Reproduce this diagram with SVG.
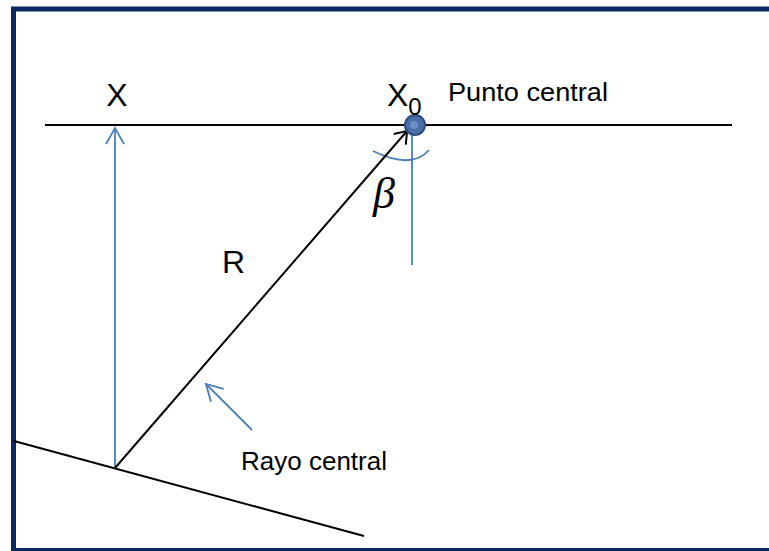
<svg xmlns="http://www.w3.org/2000/svg" width="769" height="551" viewBox="0 0 769 551">
  <defs>
    <style>
      .frame { fill: #ffffff; stroke: #0b2a64; stroke-width: 5; }
      .blk { stroke: #000000; stroke-width: 2; fill: none; stroke-linecap: butt; }
      .blu { stroke: #4a7ebb; stroke-width: 1.8; fill: none; }
      .lbl { font-family: "Liberation Sans", Arial, sans-serif; fill: #000000; }
    </style>
    <marker id="arrBlue" markerUnits="userSpaceOnUse" markerWidth="24" markerHeight="24" refX="0" refY="0" viewBox="-20 -12 24 24" orient="auto">
      <path d="M-16,-9 L0,0 L-16,9" fill="none" stroke="#4a7ebb" stroke-width="1.8"/>
    </marker>
    <marker id="arrBlack" markerUnits="userSpaceOnUse" markerWidth="24" markerHeight="24" refX="0" refY="0" viewBox="-20 -12 24 24" orient="auto">
      <path d="M-11,-8 L0,0 L-11,8" fill="none" stroke="#000000" stroke-width="2"/>
    </marker>
  </defs>

  <rect x="0" y="0" width="769" height="551" fill="#ffffff"/>
  <rect class="frame" x="13.5" y="9" width="800" height="541.5"/>

  <g id="connectors">
    <line class="blk" x1="45" y1="125" x2="732" y2="125"/>
    <line class="blk" x1="14" y1="441" x2="364" y2="536"/>
    <line class="blu" x1="115" y1="467" x2="115" y2="128" marker-end="url(#arrBlue)"/>
    <line class="blu" x1="412" y1="125" x2="412" y2="265"/>
    <path class="blu" d="M373,151 Q412,170 429,150"/>
    <line class="blk" x1="115" y1="468" x2="407" y2="131" marker-end="url(#arrBlack)"/>
    <line class="blu" x1="252" y1="430" x2="206" y2="384" marker-end="url(#arrBlue)"/>
  </g>

  <g id="punto-x0">
    <circle cx="415" cy="125" r="10" fill="#4a6fa8" stroke="#2c4c7e" stroke-width="2"/>
    <circle cx="414" cy="125" r="4" fill="#6b8fc6"/>
  </g>

  <g id="label-x">
    <text class="lbl" x="117" y="106" font-size="32" text-anchor="middle">X</text>
  </g>
  <g id="label-x0">
    <text class="lbl" x="387" y="106" font-size="32">X<tspan font-size="24" dy="9">0</tspan></text>
  </g>
  <g id="label-punto">
    <text class="lbl" x="448" y="101" font-size="26" textLength="160" lengthAdjust="spacingAndGlyphs">Punto central</text>
  </g>
  <g id="label-beta">
    <text x="373" y="208" font-family="'Liberation Serif', 'Times New Roman', serif" font-style="italic" font-size="44" fill="#000000">β</text>
  </g>
  <g id="label-r">
    <text class="lbl" x="222" y="273" font-size="32">R</text>
  </g>
  <g id="label-rayo">
    <text class="lbl" x="241" y="470" font-size="26">Rayo central</text>
  </g>
</svg>
